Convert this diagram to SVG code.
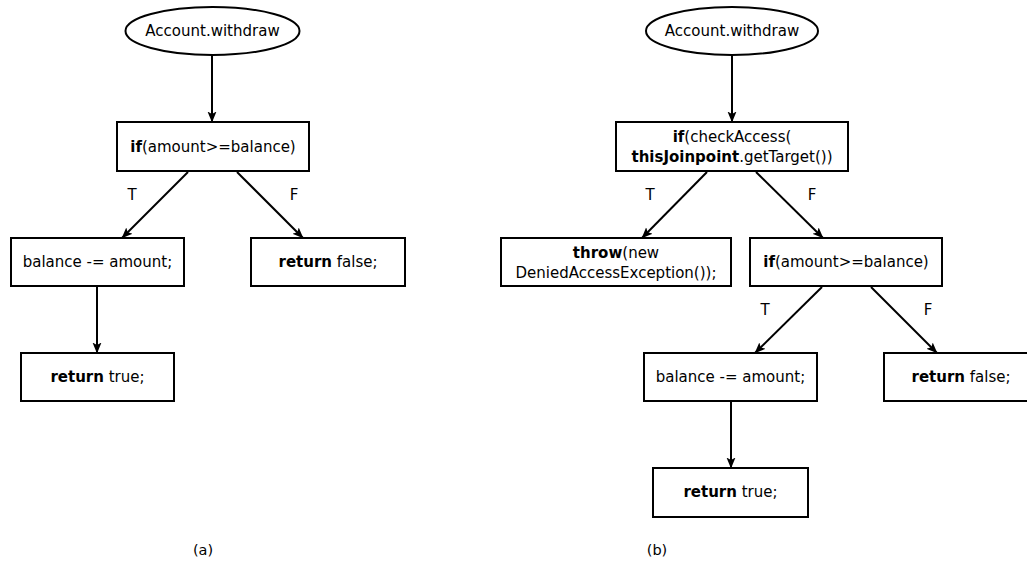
<svg xmlns="http://www.w3.org/2000/svg" width="1027" height="561" viewBox="0 0 1027 561">
<style>
.n{fill:#fff;stroke:#000;stroke-width:2}
text{font-family:"DejaVu Sans",sans-serif;font-size:15px;fill:#000;text-anchor:middle}
.b{font-weight:bold}
.cap{font-size:14.5px}
.e{stroke:#000;stroke-width:2;fill:none;marker-end:url(#ah)}
</style>
<defs>
<marker id="ah" markerWidth="12" markerHeight="10" refX="10.5" refY="5" orient="auto" markerUnits="userSpaceOnUse">
<path d="M0,0.5 L11,5 L0,9.5 L2.5,5 z" fill="#000"/>
</marker>
</defs>
<rect width="1027" height="561" fill="#fff"/>
<g id="connectors">
<line class="e" x1="212" y1="55" x2="212" y2="122"/>
<line class="e" x1="188" y1="172" x2="122" y2="238"/>
<line class="e" x1="237" y1="172" x2="303" y2="238"/>
<line class="e" x1="97" y1="286" x2="97" y2="353"/>
<line class="e" x1="732" y1="55" x2="732" y2="122"/>
<line class="e" x1="707" y1="172" x2="642" y2="238"/>
<line class="e" x1="756" y1="172" x2="823" y2="238"/>
<line class="e" x1="822" y1="287" x2="755" y2="353"/>
<line class="e" x1="871" y1="287" x2="937" y2="353"/>
<line class="e" x1="731" y1="401" x2="731" y2="468"/>
</g>
<g id="labels">
<text x="132" y="200">T</text>
<text x="294" y="200">F</text>
<text x="650" y="200">T</text>
<text x="812" y="200">F</text>
<text x="765" y="315">T</text>
<text x="928" y="315">F</text>
<text class="cap" x="203" y="555">(a)</text>
<text class="cap" x="657" y="555">(b)</text>
</g>
<g id="a-start"><ellipse class="n" cx="212.5" cy="31" rx="87" ry="24"/><text x="212.5" y="36">Account.withdraw</text></g>
<g id="a-if"><rect class="n" x="117" y="122" width="192" height="49"/><text x="213" y="152"><tspan class="b">if</tspan>(amount&gt;=balance)</text></g>
<g id="a-balance"><rect class="n" x="11" y="238" width="173" height="48"/><text x="97.5" y="267">balance -= amount;</text></g>
<g id="a-false"><rect class="n" x="251" y="238" width="154" height="48"/><text x="328" y="267"><tspan class="b">return</tspan> false;</text></g>
<g id="a-true"><rect class="n" x="21" y="353" width="153" height="48"/><text x="97.5" y="382"><tspan class="b">return</tspan> true;</text></g>
<g id="b-start"><ellipse class="n" cx="732" cy="31" rx="86" ry="24"/><text x="732" y="36">Account.withdraw</text></g>
<g id="b-check"><rect class="n" x="616" y="122" width="232" height="49"/><text x="732" y="142"><tspan class="b">if</tspan>(checkAccess(</text><text x="732" y="162"><tspan class="b">thisJoinpoint</tspan>.getTarget())</text></g>
<g id="b-throw"><rect class="n" x="501" y="238" width="230" height="48"/><text x="616" y="258"><tspan class="b">throw</tspan>(new</text><text x="616" y="278">DeniedAccessException());</text></g>
<g id="b-if"><rect class="n" x="750" y="238" width="192" height="48"/><text x="846" y="267"><tspan class="b">if</tspan>(amount&gt;=balance)</text></g>
<g id="b-balance"><rect class="n" x="644" y="353" width="173" height="48"/><text x="730.5" y="382">balance -= amount;</text></g>
<g id="b-false"><rect class="n" x="884" y="353" width="154" height="48"/><text x="961" y="382"><tspan class="b">return</tspan> false;</text></g>
<g id="b-true"><rect class="n" x="653" y="468" width="155" height="49"/><text x="730.5" y="497"><tspan class="b">return</tspan> true;</text></g>
</svg>
